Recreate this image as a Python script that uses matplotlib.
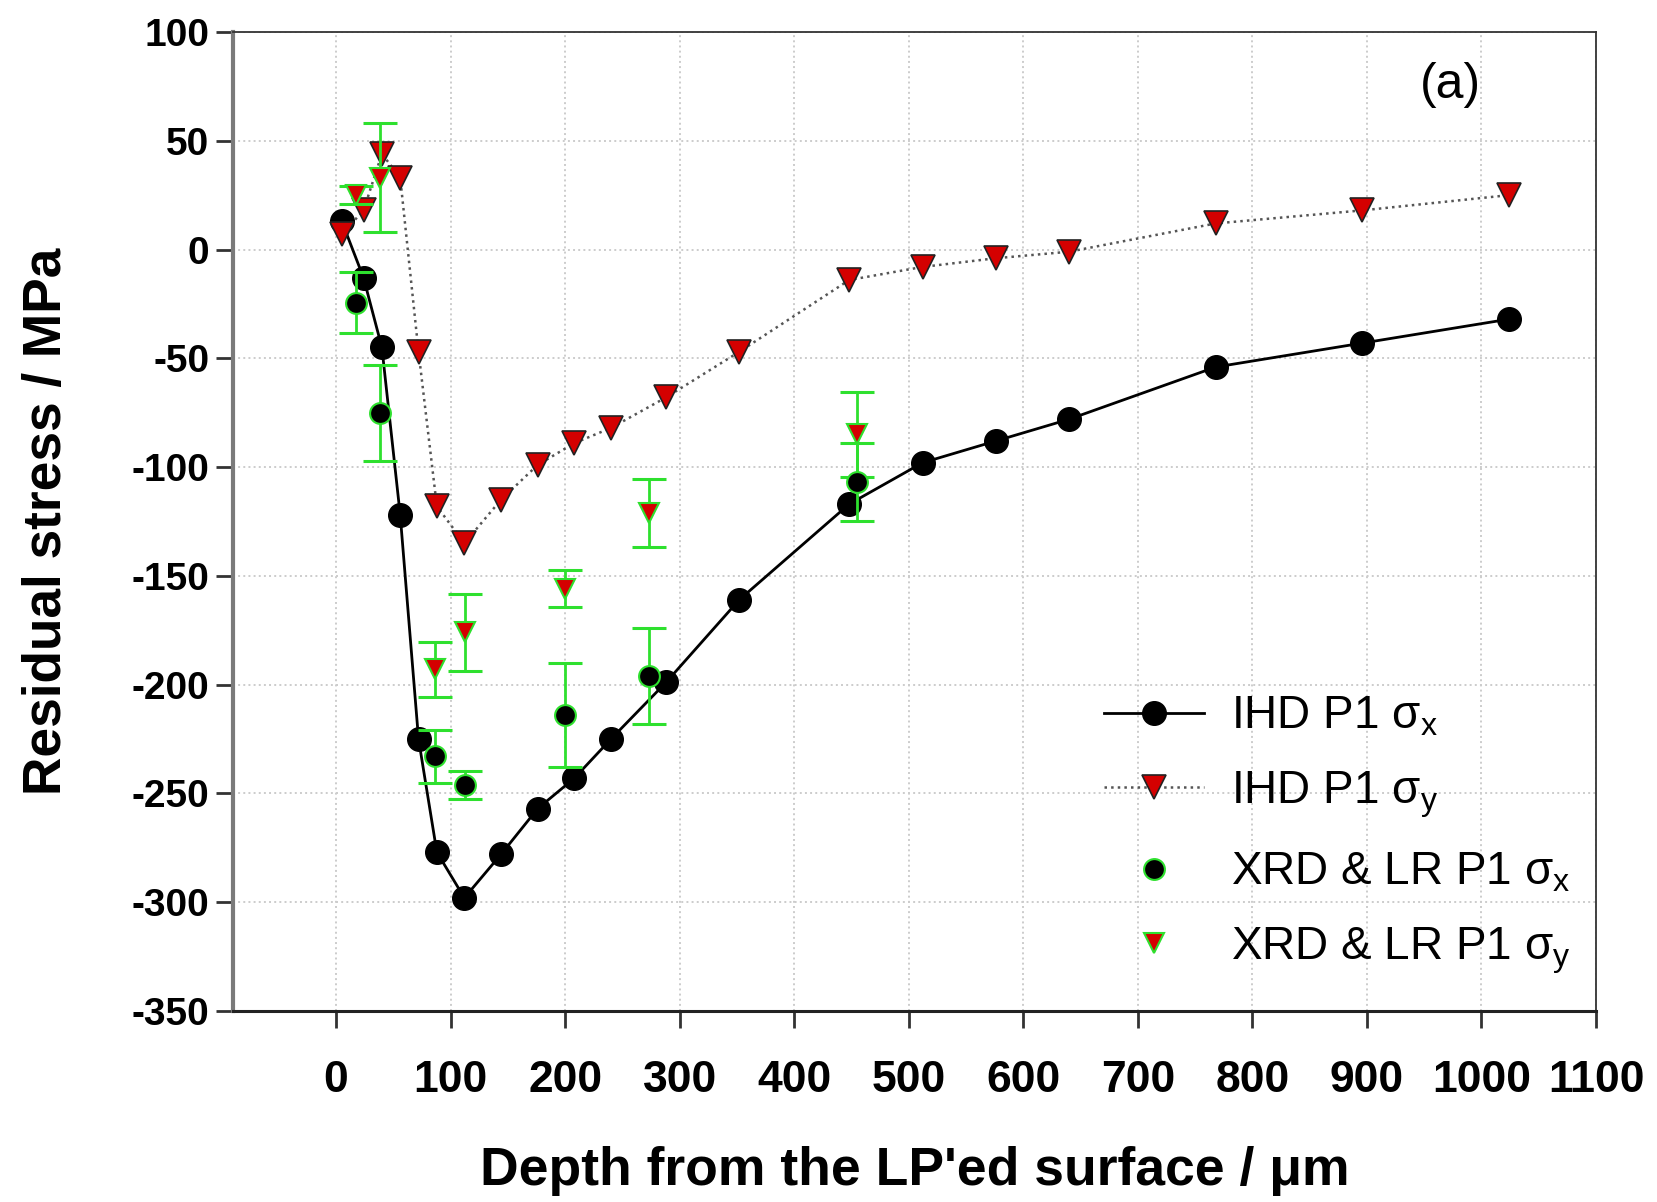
import matplotlib
matplotlib.use('Agg')
import matplotlib.pyplot as plt
from matplotlib import font_manager

# ---------------- data ----------------
ihd_depth = [5, 24, 40, 56, 72, 88, 112, 144, 176, 208, 240, 288, 352, 448, 512, 576, 640, 768, 896, 1024]
ihd_sx = [13, -13, -45, -122, -225, -277, -298, -278, -257, -243, -225, -199, -161, -117, -98, -88, -78, -54, -43, -32]
ihd_sy = [7, 18, 44, 33, -47, -118, -135, -115, -99, -89, -82, -68, -47, -14, -8, -4, -1, 12, 18, 25]

xrd_depth = [17, 38, 86, 113, 200, 273, 455]
xrd_sx = [-24.5, -75, -233, -246, -214, -196, -107]
xrd_sx_err = [14, 22, 12, 6.5, 24, 22, 18]
xrd_sy = [25, 33, -193, -176, -156, -121, -85]
xrd_sy_err = [4, 25, 12.5, 17.5, 8.5, 15.5, 19.5]

x_ticks = [0, 100, 200, 300, 400, 500, 600, 700, 800, 900, 1000, 1100]
y_ticks = [-350, -300, -250, -200, -150, -100, -50, 0, 50, 100]

labels = ['IHD P1 σ$_\\mathregular{x}$', 'IHD P1 σ$_\\mathregular{y}$',
          'XRD & LR P1 σ$_\\mathregular{x}$', 'XRD & LR P1 σ$_\\mathregular{y}$']

# ---------------- fonts ----------------
names = {f.name for f in font_manager.fontManager.ttflist}
narrow = 'Liberation Sans Narrow' if 'Liberation Sans Narrow' in names else 'Liberation Sans'

plt.rcParams['font.family'] = ['Liberation Sans', 'DejaVu Sans']
plt.rcParams['mathtext.fontset'] = 'custom'
plt.rcParams['mathtext.rm'] = 'Liberation Sans'
plt.rcParams['mathtext.it'] = 'Liberation Sans:italic'
plt.rcParams['mathtext.bf'] = 'Liberation Sans:bold'

fig = plt.figure(figsize=(16.57, 12.02), dpi=100)
ax = fig.add_axes([0.1406, 0.1589, 0.8226, 0.8145])

green = '#2ee02e'
red = '#d40000'

# IHD sigma_x
l1, = ax.plot(ihd_depth, ihd_sx, '-', color='black', lw=2, marker='o', ms=17,
              mfc='black', mec='black', zorder=3)
# IHD sigma_y
l2, = ax.plot(ihd_depth, ihd_sy, ':', color='#555555', lw=1.8, marker='v', ms=17,
              mfc=red, mec='#222222', mew=1.2, zorder=3)

# XRD error bars
ax.errorbar(xrd_depth, xrd_sx, yerr=xrd_sx_err, fmt='none', ecolor=green,
            elinewidth=2, capsize=12, capthick=2.2, zorder=4)
ax.errorbar(xrd_depth, xrd_sy, yerr=xrd_sy_err, fmt='none', ecolor=green,
            elinewidth=2, capsize=12, capthick=2.2, zorder=4)
l3, = ax.plot(xrd_depth, xrd_sx, 'none', marker='o', ms=15, mfc='black',
              mec=green, mew=1.5, zorder=5)
l4, = ax.plot(xrd_depth, xrd_sy, 'none', marker='v', ms=14, mfc=red,
              mec=green, mew=1.5, zorder=5)

ax.set_xlim(-90, 1100)
ax.set_ylim(-350, 100)
ax.set_xticks(x_ticks)
ax.set_yticks(y_ticks)
ax.set_xticklabels([str(v) for v in x_ticks], fontsize=32, fontweight='bold', family=narrow)
ax.set_yticklabels([str(v) for v in y_ticks], fontsize=28, fontweight='bold')
ax.tick_params(axis='both', direction='out', length=12, width=2, color='#333333')
ax.tick_params(axis='x', pad=23)
ax.tick_params(axis='y', pad=5)

ax.grid(True, linestyle=':', color='#cccccc', lw=1.4)
ax.set_axisbelow(True)

ax.spines['left'].set_color('#7a7a7a')
ax.spines['left'].set_linewidth(3)
ax.spines['bottom'].set_color('#222222')
ax.spines['bottom'].set_linewidth(2.2)
ax.spines['top'].set_color('#333333')
ax.spines['top'].set_linewidth(1.3)
ax.spines['right'].set_color('#333333')
ax.spines['right'].set_linewidth(1.3)

ax.set_xlabel("Depth from the LP'ed surface / μm", fontsize=38.5, fontweight='bold',
              family=narrow, labelpad=33)
ax.set_ylabel('Residual stress / MPa', fontsize=38.3, fontweight='bold',
              family=narrow, labelpad=43)

ax.text(0.893, 0.946, '(a)', transform=ax.transAxes, fontsize=36,
        ha='center', va='center')

leg = ax.legend(handles=[l1, l2, l3, l4], labels=labels, loc='upper left',
                bbox_to_anchor=(0.639, 0.323), frameon=False, fontsize=33,
                handlelength=2.18, handletextpad=0.6, labelspacing=0.67,
                borderpad=0, borderaxespad=0, numpoints=1)

fig.savefig('out.png', dpi=100)
